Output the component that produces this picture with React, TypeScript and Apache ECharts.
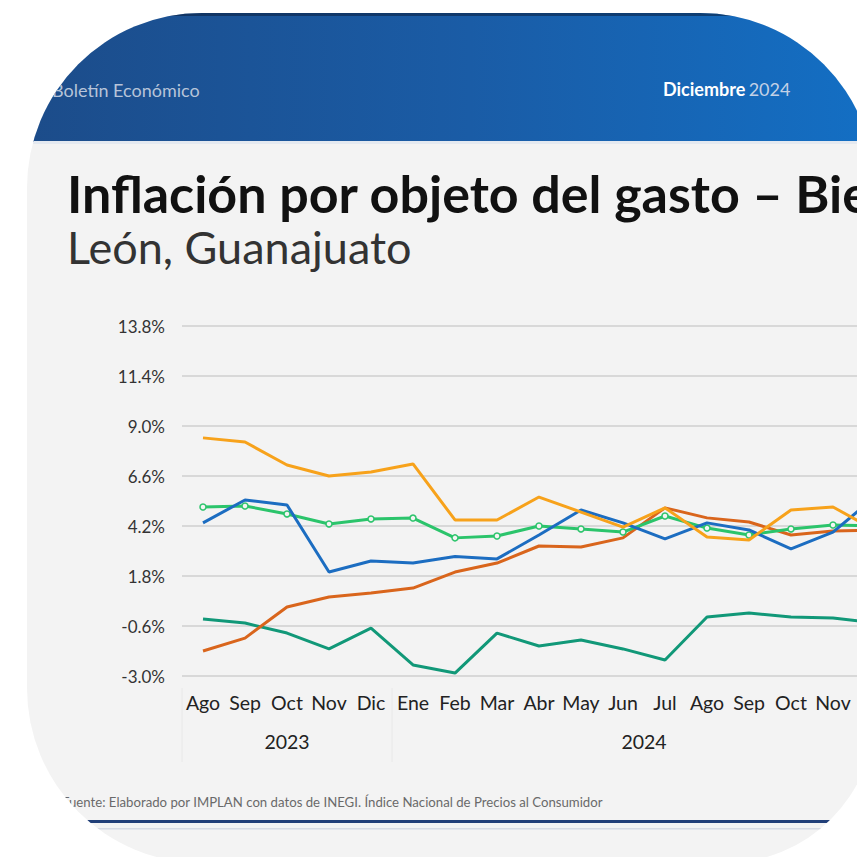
import React, { useEffect, useRef } from "react";
import * as echarts from "echarts";

const months = ["Ago", "Sep", "Oct", "Nov", "Dic", "Ene", "Feb", "Mar", "Abr", "May", "Jun", "Jul", "Ago", "Sep", "Oct", "Nov", "Dic"];
const yearLabels = ["2023", "2024"];
const yTicks = { min: -3.0, max: 13.8, interval: 2.4 };

const serieNaranja = [8.43, 8.23, 7.13, 6.6, 6.79, 7.18, 4.49, 4.49, 5.59, 4.87, 4.15, 5.07, 3.67, 3.53, 4.97, 5.11, 4.0];
const serieAzul = [4.35, 5.45, 5.21, 1.99, 2.52, 2.42, 2.74, 2.62, 3.77, 4.97, 4.35, 3.58, 4.35, 4.01, 3.1, 3.91, 5.6];
const serieVerde = [5.11, 5.16, 4.78, 4.3, 4.54, 4.58, 3.63, 3.72, 4.2, 4.06, 3.91, 4.68, 4.1, 3.77, 4.06, 4.25, 4.2];
const serieNaranjaOscuro = [-1.8, -1.18, 0.31, 0.79, 0.98, 1.22, 1.99, 2.42, 3.24, 3.19, 3.63, 5.07, 4.59, 4.39, 3.77, 3.96, 4.0];
const serieTeal = [-0.26, -0.46, -0.94, -1.7, -0.7, -2.47, -2.86, -0.94, -1.56, -1.27, -1.7, -2.23, -0.17, 0.02, -0.17, -0.22, -0.45];

const FONT = "Lato, 'Open Sans', sans-serif";

export default function App() {
  const ref = useRef<HTMLDivElement>(null);
  useEffect(() => {
    if (!ref.current) return;
    const chart = echarts.init(ref.current, null, { renderer: "svg" });
    const line = (name: string, data: number[], color: string, z: number, marker = false) => ({
      name,
      type: "line",
      data,
      z,
      symbol: marker ? "circle" : "none",
      symbolSize: 6,
      showSymbol: marker,
      lineStyle: { color, width: 3 },
      itemStyle: { color: "#f4f4f4", borderColor: color, borderWidth: 1.5 },
      emphasis: { disabled: true },
    });
    chart.setOption({
      animation: false,
      backgroundColor: "transparent",
      grid: { left: 182, right: 44, top: 326, bottom: 204, containLabel: false },
      xAxis: {
        type: "category",
        data: months,
        boundaryGap: true,
        axisLine: { show: false },
        axisTick: { show: false },
        splitLine: { show: false },
        axisLabel: {
          interval: (index: number) => index < months.length - 1,
          margin: 16,
          fontSize: 19.5,
          color: "#222",
          fontFamily: FONT,
        },
      },
      yAxis: {
        type: "value",
        min: yTicks.min,
        max: yTicks.max,
        interval: yTicks.interval,
        axisLine: { show: false },
        axisTick: { show: false },
        splitLine: { show: true, lineStyle: { color: "#d8d8d8", width: 2 } },
        axisLabel: {
          margin: 17,
          fontSize: 17,
          color: "#333",
          fontFamily: FONT,
          formatter: (v: number) => v.toFixed(1) + "%",
        },
      },
      series: [
        line("Serie 5", serieTeal, "#119878", 2),
        line("Serie 4", serieNaranjaOscuro, "#D9651C", 3),
        line("Serie 3", serieVerde, "#2BC46B", 4, true),
        line("Serie 2", serieAzul, "#1C6DC1", 5),
        line("Serie 1", serieNaranja, "#F7A21B", 6),
      ],
      graphic: [
        {
          type: "rect",
          z: -10,
          shape: { x: 0, y: 0, width: 940, height: 142 },
          style: {
            fill: new echarts.graphic.LinearGradient(0, 0, 1, 0, [
              { offset: 0, color: "#1c4b88" },
              { offset: 0.5, color: "#1a5ca6" },
              { offset: 1, color: "#1272c9" },
            ]),
          },
        },
        { type: "rect", z: -9, shape: { x: 0, y: 13, width: 940, height: 3 }, style: { fill: "rgba(10,30,60,0.55)" } },
        { type: "rect", z: -9, shape: { x: 0, y: 141, width: 940, height: 3 }, style: { fill: "#e4e9f0" } },
        {
          type: "text",
          x: 52,
          y: 90,
          style: { text: "Boletín Económico", fontSize: 18, fill: "#b7c4d9", fontFamily: FONT, verticalAlign: "middle" },
        },
        {
          type: "text",
          x: 663,
          y: 89,
          style: {
            text: "{b|Diciembre} {l|2024}",
            verticalAlign: "middle",
            rich: {
              b: { fontSize: 18, fontWeight: "bold", fill: "#ffffff", fontFamily: FONT },
              l: { fontSize: 18, fill: "#c3d1e6", fontFamily: FONT },
            },
          },
        },
        {
          type: "text",
          x: 67,
          y: 193,
          style: {
            text: "Inflación por objeto del gasto – Bienes",
            fontSize: 52,
            fontWeight: "bold",
            fill: "#111",
            fontFamily: FONT,
            verticalAlign: "middle",
          },
        },
        {
          type: "text",
          x: 67,
          y: 247,
          style: { text: "León, Guanajuato", fontSize: 45, fill: "#333", fontFamily: FONT, verticalAlign: "middle" },
        },
        {
          type: "text",
          x: 287,
          y: 741,
          style: { text: yearLabels[0], fontSize: 19.5, fill: "#222", fontFamily: FONT, align: "center", verticalAlign: "middle" },
        },
        {
          type: "text",
          x: 644,
          y: 741,
          style: { text: yearLabels[1], fontSize: 19.5, fill: "#222", fontFamily: FONT, align: "center", verticalAlign: "middle" },
        },
        { type: "line", shape: { x1: 182, y1: 688, x2: 182, y2: 762 }, style: { stroke: "#e8e8e8", lineWidth: 1 } },
        { type: "line", shape: { x1: 392, y1: 688, x2: 392, y2: 762 }, style: { stroke: "#e8e8e8", lineWidth: 1 } },
        {
          type: "text",
          x: 62,
          y: 802,
          style: {
            text: "Fuente: Elaborado por IMPLAN con datos de INEGI. Índice Nacional de Precios al Consumidor",
            fontSize: 13.2,
            fill: "#6a6a6a",
            fontFamily: FONT,
            verticalAlign: "middle",
          },
        },
        { type: "rect", shape: { x: 0, y: 820, width: 940, height: 3 }, style: { fill: "#213f78" } },
        { type: "rect", shape: { x: 0, y: 828, width: 940, height: 1.5 }, style: { fill: "#d6dae3" } },
      ],
    });
    return () => chart.dispose();
  }, []);

  return (
    <div style={{ position: "absolute", left: 0, top: 0, width: 857, height: 857, overflow: "hidden", background: "#ffffff" }}>
      <div
        style={{
          position: "absolute",
          left: 27,
          top: 13,
          width: 848,
          height: 850,
          borderRadius: "175px 175px 150px 175px",
          overflow: "hidden",
          background: "#f3f3f3",
        }}
      >
        <div ref={ref} style={{ position: "absolute", left: -27, top: -13, width: 940, height: 880 }} />
      </div>
    </div>
  );
}
